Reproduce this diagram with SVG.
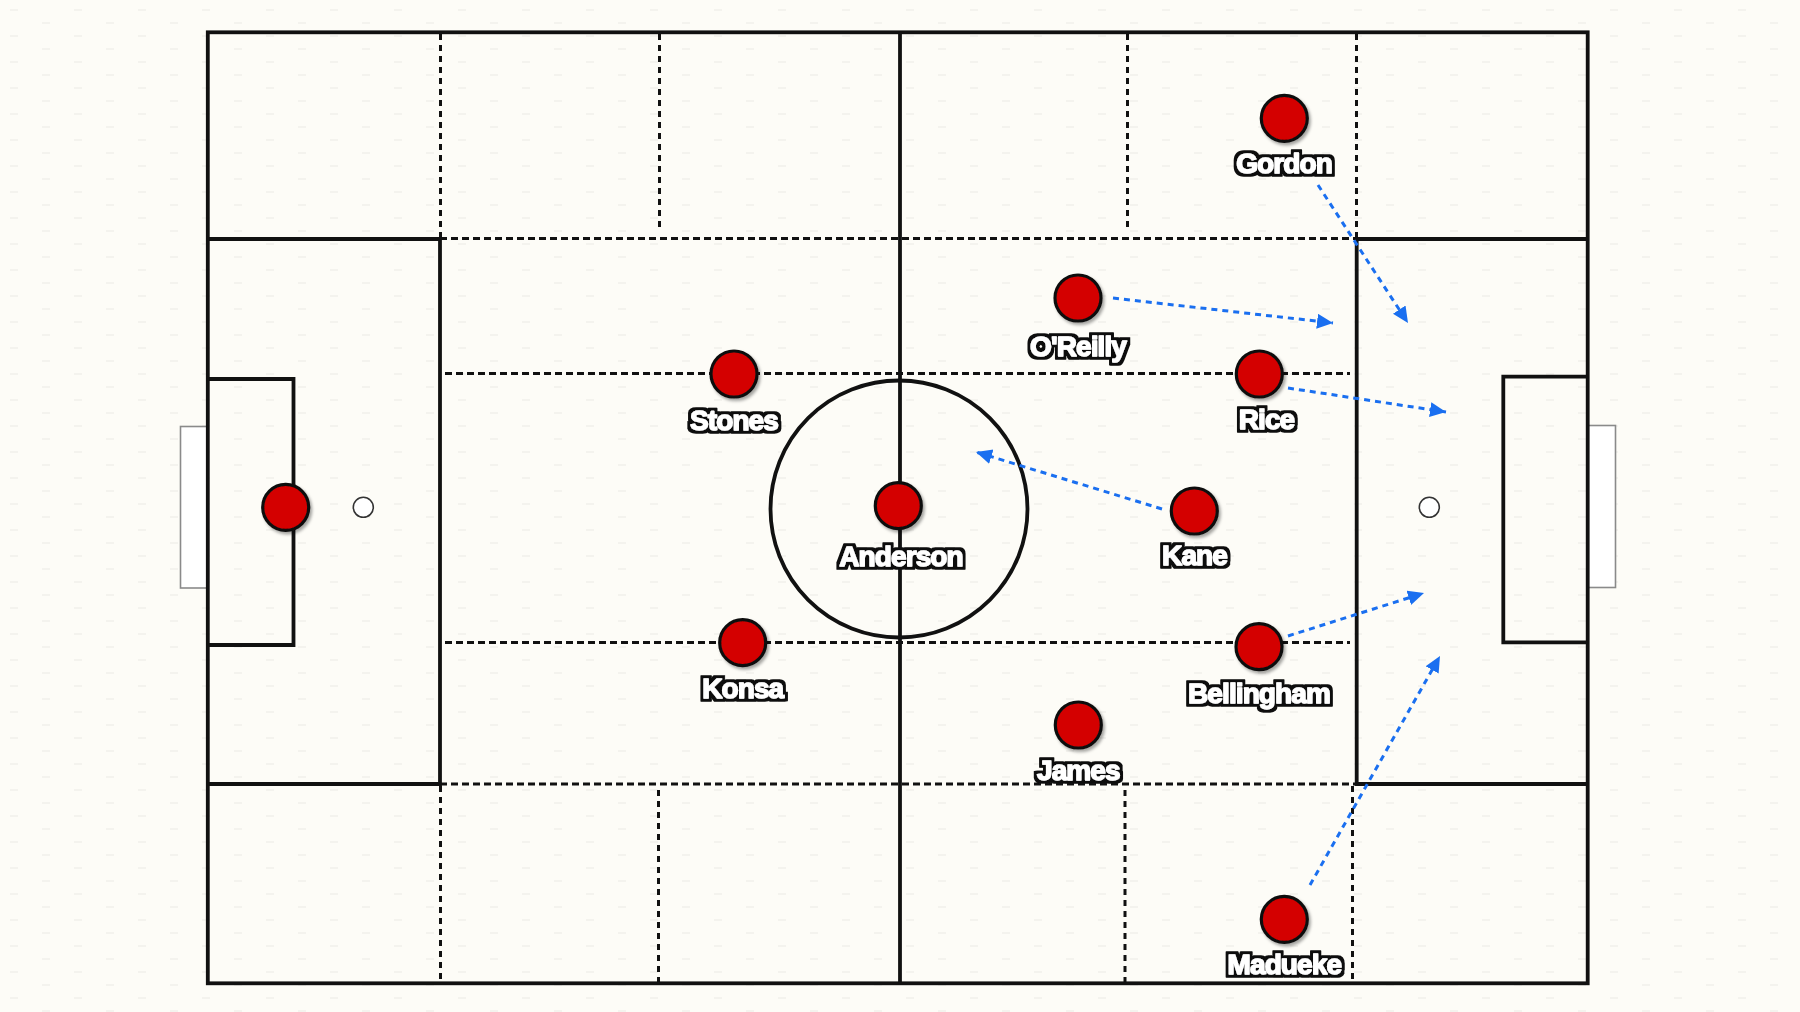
<svg xmlns="http://www.w3.org/2000/svg" width="1800" height="1012" viewBox="0 0 1800 1012">
  <defs>
    <pattern id="bgdots" width="64" height="26" patternUnits="userSpaceOnUse">
      <rect width="64" height="26" fill="#fdfcf7"/>
      <line x1="10" y1="10" x2="18" y2="10" stroke="#efeee8" stroke-width="1.2"/>
      <line x1="42" y1="23" x2="50" y2="23" stroke="#efeee8" stroke-width="1.2"/>
    </pattern>
    <filter id="shadow" x="-30%" y="-30%" width="160%" height="160%">
      <feDropShadow dx="2" dy="2.5" stdDeviation="1.6" flood-color="#000" flood-opacity="0.35"/>
    </filter>
    <filter id="outline" x="-15%" y="-40%" width="130%" height="180%">
      <feMorphology in="SourceAlpha" operator="dilate" radius="3" result="thick"/>
      <feGaussianBlur in="thick" stdDeviation="0.4" result="soft"/>
      <feFlood flood-color="#111"/>
      <feComposite in2="soft" operator="in" result="blackout"/>
      <feMerge>
        <feMergeNode in="blackout"/>
        <feMergeNode in="SourceGraphic"/>
      </feMerge>
    </filter>
    <marker id="arrow" markerUnits="userSpaceOnUse" markerWidth="18" markerHeight="16" refX="16" refY="7.5" orient="auto">
      <path d="M0,0 L16,7.5 L0,15 z" fill="#1a6ff0"/>
    </marker>
  </defs>
  <style>
    .line { fill: none; stroke: #111; stroke-width: 3.8; }
    .dash { fill: none; stroke: #111; stroke-width: 3; stroke-dasharray: 7 4; }
    .vdash { fill: none; stroke: #111; stroke-width: 3; stroke-dasharray: 6 5; }
    .goal { fill: #ffffff; stroke: #8a8a8a; stroke-width: 1.6; }
    .spot { fill: #ffffff; stroke: #333; stroke-width: 1.6; }
    .player { fill: #d40000; stroke: #111; stroke-width: 3.2; filter: url(#shadow); }
    .label { font-family: "Liberation Sans", Arial, sans-serif; font-weight: bold; font-size: 28px; letter-spacing: -0.9px; fill: #ffffff; stroke: #ffffff; stroke-width: 1.3; stroke-linejoin: round; text-anchor: middle; filter: url(#outline); }
    .conn { fill: none; stroke: #1a6ff0; stroke-width: 3; stroke-dasharray: 6 5; marker-end: url(#arrow); }
  </style>

  <rect x="0" y="0" width="1800" height="1012" fill="url(#bgdots)"/>

  <g id="pitch">
    <rect class="goal" x="180.5" y="426.5" width="27" height="161.5"/>
    <rect class="goal" x="1588" y="425.5" width="27.5" height="162"/>
    <line class="dash" x1="440" y1="238.5" x2="1356.5" y2="238.5"/>
    <line class="dash" x1="445" y1="373.5" x2="1350" y2="373.5"/>
    <line class="dash" x1="445" y1="642.5" x2="1350" y2="642.5"/>
    <line class="dash" x1="440" y1="784" x2="1356.5" y2="784"/>
    <line class="vdash" x1="440.5" y1="34" x2="440.5" y2="237"/>
    <line class="vdash" x1="659.5" y1="34" x2="659.5" y2="231"/>
    <line class="vdash" x1="1127.5" y1="34" x2="1127.5" y2="231"/>
    <line class="vdash" x1="1356.5" y1="34" x2="1356.5" y2="237"/>
    <line class="vdash" x1="440.5" y1="786" x2="440.5" y2="982"/>
    <line class="vdash" x1="658.5" y1="790" x2="658.5" y2="982"/>
    <line class="vdash" x1="1125" y1="790" x2="1125" y2="982"/>
    <line class="vdash" x1="1352.5" y1="786" x2="1352.5" y2="982"/>
    <rect class="line" x="207.8" y="32.3" width="1379.9" height="951"/>
    <line class="line" x1="900" y1="32.3" x2="900" y2="983.3"/>
    <circle class="line" cx="899" cy="509" r="128.5"/>
    <polyline class="line" points="207.8,239 440,239 440,784 207.8,784"/>
    <polyline class="line" points="207.8,379 293.5,379 293.5,645 207.8,645"/>
    <polyline class="line" points="1587.7,239 1356.7,239 1356.7,784 1587.7,784"/>
    <polyline class="line" points="1587.7,376.7 1503.3,376.7 1503.3,642.3 1587.7,642.3"/>
    <circle class="spot" cx="363.3" cy="507.3" r="10"/>
    <circle class="spot" cx="1429.3" cy="507.3" r="10"/>
  </g>

  <g id="connectors">
    <line class="conn" x1="1318" y1="185" x2="1408" y2="323"/>
    <line class="conn" x1="1113" y1="298" x2="1333" y2="323"/>
    <line class="conn" x1="1288" y1="388" x2="1446" y2="412"/>
    <line class="conn" x1="1162" y1="509" x2="976" y2="452"/>
    <line class="conn" x1="1288" y1="636" x2="1424" y2="593"/>
    <line class="conn" x1="1310" y1="885" x2="1440" y2="656"/>
  </g>

  <g id="goalkeeper">
    <circle class="player" cx="285.7" cy="507.3" r="23"/>
  </g>
  <g id="gordon">
    <circle class="player" cx="1284.3" cy="118.3" r="23"/>
    <text class="label" x="1284" y="173">Gordon</text>
  </g>
  <g id="oreilly">
    <circle class="player" cx="1078" cy="298" r="23"/>
    <text class="label" x="1078" y="356">O'Reilly</text>
  </g>
  <g id="stones">
    <circle class="player" cx="734" cy="374" r="23"/>
    <text class="label" x="734" y="430">Stones</text>
  </g>
  <g id="rice">
    <circle class="player" cx="1259.3" cy="374" r="23"/>
    <text class="label" x="1266.5" y="429">Rice</text>
  </g>
  <g id="anderson">
    <circle class="player" cx="898.3" cy="505.7" r="23"/>
    <text class="label" x="901" y="566">Anderson</text>
  </g>
  <g id="kane">
    <circle class="player" cx="1194.3" cy="511" r="23"/>
    <text class="label" x="1194.5" y="565">Kane</text>
  </g>
  <g id="konsa">
    <circle class="player" cx="742.7" cy="642.7" r="23"/>
    <text class="label" x="742.7" y="698">Konsa</text>
  </g>
  <g id="bellingham">
    <circle class="player" cx="1259" cy="646.7" r="23"/>
    <text class="label" x="1259" y="703">Bellingham</text>
  </g>
  <g id="james">
    <circle class="player" cx="1078.3" cy="725" r="23"/>
    <text class="label" x="1078.3" y="780">James</text>
  </g>
  <g id="madueke">
    <circle class="player" cx="1284.3" cy="919.3" r="23"/>
    <text class="label" x="1284.3" y="974">Madueke</text>
  </g>
</svg>
